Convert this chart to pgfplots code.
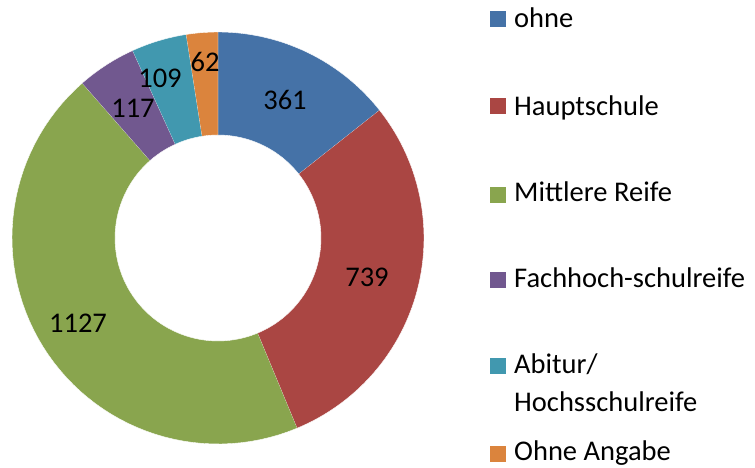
\documentclass[border=0pt]{standalone}
\usepackage{pgfplots}
\pgfplotsset{compat=1.18}
\usepackage{fontspec}
\setmainfont{Carlito}
\definecolor{c1}{HTML}{4572A7}
\definecolor{c2}{HTML}{AA4643}
\definecolor{c3}{HTML}{89A54E}
\definecolor{c4}{HTML}{71588F}
\definecolor{c5}{HTML}{4198AF}
\definecolor{c6}{HTML}{DB843D}
\def\total{2515}
\newcommand\slice[3]{%
 \pgfmathsetmacro\sA{90-#1/\total*360}%
 \pgfmathsetmacro\sB{90-(#1+#2)/\total*360}%
 \addplot[fill=#3,draw=white,line width=0.4pt,domain=0:3,samples=181,variable=\t]
 ({218+(\t<=1?206:(\t<=2?206-103*(\t-1):103))*cos(\t<=1?\sA+(\sB-\sA)*\t:(\t<=2?\sB:\sB-(\sB-\sA)*(\t-2)))},
  {229+(\t<=1?206:(\t<=2?206-103*(\t-1):103))*sin(\t<=1?\sA+(\sB-\sA)*\t:(\t<=2?\sB:\sB-(\sB-\sA)*(\t-2)))});
}
\begin{document}
\begin{tikzpicture}
\begin{axis}[width=755pt,height=467pt,scale only axis,xmin=0,xmax=755,ymin=0,ymax=467,hide axis,clip=false]
% values: ohne 361, Hauptschule 739, Mittlere Reife 1127, Fachhoch 117, Abitur 109, Ohne Angabe 62
\slice{0}{361}{c1}
\slice{361}{739}{c2}
\slice{1100}{1127}{c3}
\slice{2227}{117}{c4}
\slice{2344}{109}{c5}
\slice{2453}{62}{c6}
\begin{scope}[every node/.style={font=\fontsize{28.5}{34}\selectfont}]
\node at (axis cs:285,367) {361};
\node at (axis cs:367,190) {739};
\node at (axis cs:78,144) {1127};
\node at (axis cs:133,359) {117};
\node at (axis cs:160,389) {109};
\node at (axis cs:205,405) {62};
\end{scope}
\begin{scope}[every node/.style={font=\fontsize{28.5}{34}\selectfont,inner sep=0pt}]
\node[fill=c1,minimum size=16pt] at (axis cs:498,447.5) {};
\node[fill=c2,minimum size=16pt] at (axis cs:498,361) {};
\node[fill=c3,minimum size=16pt] at (axis cs:498,272.5) {};
\node[fill=c4,minimum size=16pt] at (axis cs:498,187.5) {};
\node[fill=c5,minimum size=16pt] at (axis cs:498,101) {};
\node[fill=c6,minimum size=16pt] at (axis cs:498,13) {};
\node[anchor=base west] at (axis cs:514,439) {ohne};
\node[anchor=base west] at (axis cs:514,352) {Hauptschule};
\node[anchor=base west] at (axis cs:514,266) {Mittlere Reife};
\node[anchor=base west] at (axis cs:514,180) {Fachhoch-schulreife};
\node[anchor=base west] at (axis cs:514,94) {Abitur/};
\node[anchor=base west] at (axis cs:514,56) {Hochsschulreife};
\node[anchor=base west] at (axis cs:514,7) {Ohne Angabe};
\end{scope}
\end{axis}
\pgfresetboundingbox
\path (current axis.south west) rectangle (current axis.north east);
\end{tikzpicture}
\end{document}
